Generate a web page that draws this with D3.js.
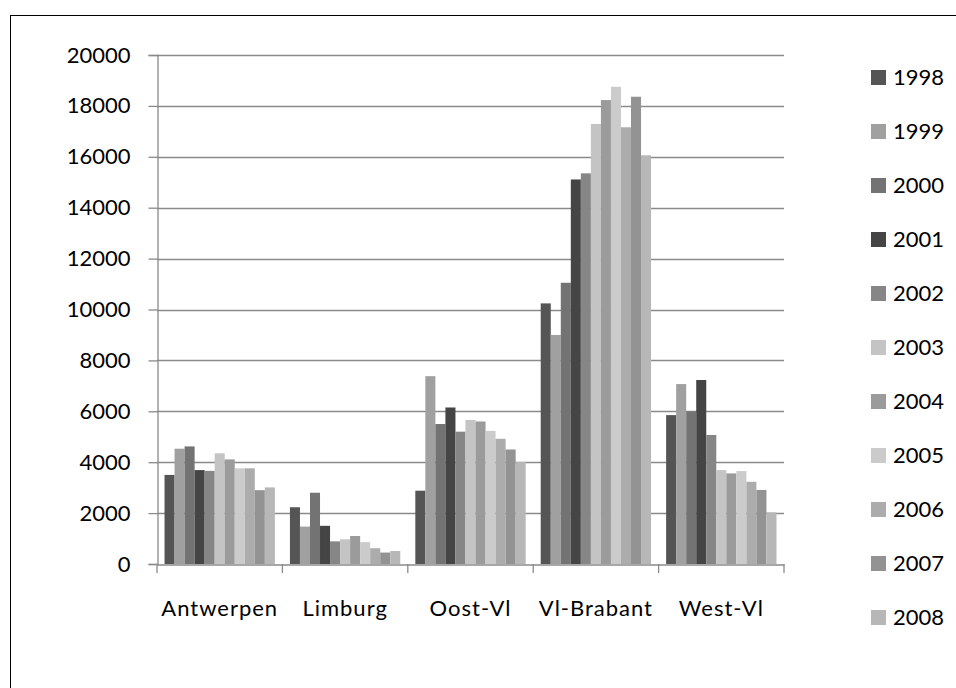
<!DOCTYPE html>
<html><head><meta charset="utf-8">
<script src="https://cdn.jsdelivr.net/npm/d3@7"></script>
<style>
html,body{margin:0;padding:0;background:#fff;}
svg text{font-family:Lato,"Open Sans",sans-serif;fill:#000;}
</style></head>
<body><svg id="c" width="956" height="688"></svg>
<script>
const categories = ["Antwerpen","Limburg","Oost-Vl","Vl-Brabant","West-Vl"];
const years = ["1998","1999","2000","2001","2002","2003","2004","2005","2006","2007","2008"];
const colors = ["#555555","#a0a0a0","#737373","#454545","#868686","#c4c4c4","#9b9b9b","#cbcbcb","#acacac","#939393","#b7b7b7"];
const antwerpen = [3500,4530,4620,3690,3660,4350,4110,3760,3760,2900,3010];
const limburg   = [2230,1470,2800,1500,890,970,1100,860,620,450,510];
const oostVl    = [2880,7380,5500,6150,5200,5660,5600,5230,4920,4500,4010];
const vlBrabant = [10240,9000,11050,15110,15350,17290,18230,18750,17160,18360,16060];
const westVl    = [5850,7070,5990,7230,5070,3690,3560,3650,3230,2910,2030];
const yTicks = [0,2000,4000,6000,8000,10000,12000,14000,16000,18000,20000];
const seriesByCat = [antwerpen,limburg,oostVl,vlBrabant,westVl];

const svg = d3.select("#c");
svg.append("rect").attr("x",10.5).attr("y",15.5).attr("width",1000).attr("height",800)
  .attr("fill","#fff").attr("stroke","#000").attr("stroke-width",1);

const L=157, R=784, T=55, B=564;
const y = d3.scaleLinear().domain([0,20000]).range([B,T]);
const x0 = d3.scaleBand().domain(categories).range([L,R]).padding(0);
const x1 = d3.scaleBand().domain(years).range([0,x0.bandwidth()]).paddingInner(0).paddingOuter(0.75);
const grid = "#8a8a8a";

// gridlines
svg.append("g").selectAll("line").data(yTicks.filter(d=>d>0)).join("line")
  .attr("x1",L).attr("x2",R).attr("y1",d=>Math.round(y(d))+0.5).attr("y2",d=>Math.round(y(d))+0.5)
  .attr("stroke",grid).attr("stroke-width",1.3);

// bars
const g = svg.append("g");
categories.forEach((c,ci)=>{
  g.append("g").selectAll("rect").data(seriesByCat[ci]).join("rect")
    .attr("x",(d,i)=>x0(c)+x1(years[i]))
    .attr("width",x1.bandwidth())
    .attr("y",d=>y(d))
    .attr("height",d=>B-y(d))
    .attr("fill",(d,i)=>colors[i]);
});

// y axis
const ya = svg.append("g").attr("transform",`translate(${L+0.5},0)`)
  .call(d3.axisLeft(y).tickValues(yTicks).tickSize(9).tickPadding(18).tickFormat(d=>String(d)));
ya.select(".domain").attr("stroke",grid).attr("stroke-width",1.3);
ya.selectAll(".tick line").attr("stroke",grid).attr("stroke-width",1.3);
ya.selectAll("text").attr("font-size",22).attr("font-family","Lato").attr("fill","#000");

// x axis
const xa = svg.append("g").attr("transform",`translate(0,${B+0.5})`)
  .call(d3.axisBottom(x0).tickSize(0).tickPadding(36));
xa.select(".domain").attr("stroke",grid).attr("stroke-width",1.3);
xa.selectAll("text").attr("font-size",22).attr("font-family","Lato").attr("letter-spacing","1px").attr("fill","#000");
svg.append("g").selectAll("line").data(d3.range(categories.length+1)).join("line")
  .attr("x1",i=>L+i*x0.step()).attr("x2",i=>L+i*x0.step())
  .attr("y1",B).attr("y2",B+9).attr("stroke",grid).attr("stroke-width",1.3);

// legend
const lg = svg.append("g");
const row = lg.selectAll("g").data(years).join("g")
  .attr("transform",(d,i)=>`translate(871,${70+i*54})`);
row.append("rect").attr("width",15).attr("height",15).attr("fill",(d,i)=>colors[i]);
row.append("text").attr("x",22).attr("y",15).attr("font-size",22).text(d=>d);
</script></body></html>
